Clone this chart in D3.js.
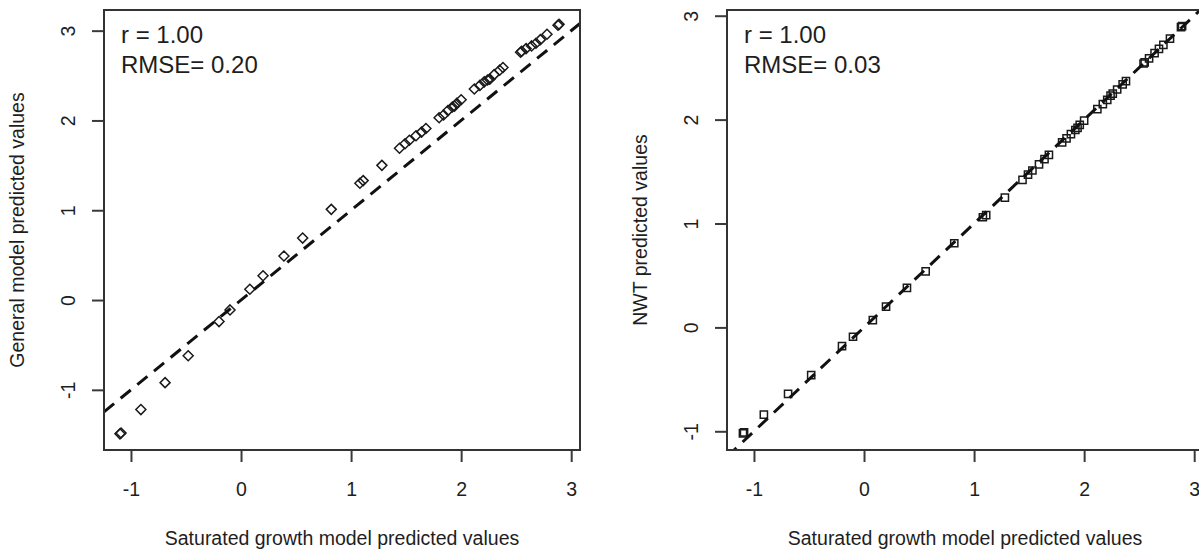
<!DOCTYPE html>
<html>
<head>
<meta charset="utf-8">
<script src="https://cdn.jsdelivr.net/npm/d3@7"></script>
<style>
  html, body { margin: 0; background: #fff; }
  svg { display: block; }
  text { font-family: "Liberation Sans", Arial, sans-serif; fill: #1e1e1e; }
</style>
</head>
<body>
<svg id="chart" width="1199" height="552"></svg>
<script>
// Tick values shared by both panels
const xTicks = [-1, 0, 1, 2, 3];
const yTicks = [-1, 0, 1, 2, 3];

// Saturated growth model predictions (x for both panels)
const saturatedPred = [
  -1.10, -1.09, -0.91, -0.69, -0.48, -0.20, -0.10, 0.08, 0.20, 0.39, 0.56, 0.82,
  1.08, 1.11, 1.28, 1.44, 1.49, 1.53, 1.59, 1.64, 1.68,
  1.80, 1.84, 1.88, 1.92, 1.94, 1.96, 2.00,
  2.12, 2.17, 2.21, 2.24, 2.26, 2.30, 2.35, 2.38,
  2.54, 2.55, 2.59, 2.64, 2.68, 2.72, 2.78, 2.88, 2.89
];

// General model predictions
const generalPred = [
  -1.49, -1.48, -1.22, -0.92, -0.62, -0.24, -0.11, 0.12, 0.27, 0.49, 0.69, 1.01,
  1.30, 1.33, 1.50, 1.69, 1.74, 1.78, 1.83, 1.87, 1.91,
  2.03, 2.06, 2.11, 2.15, 2.16, 2.19, 2.23,
  2.35, 2.39, 2.43, 2.45, 2.46, 2.51, 2.56, 2.59,
  2.76, 2.77, 2.80, 2.83, 2.86, 2.90, 2.96, 3.06, 3.07
];

// NWT model predictions
const nwtPred = [
  -1.02, -1.01, -0.84, -0.64, -0.46, -0.18, -0.09, 0.07, 0.20, 0.38, 0.54, 0.81,
  1.06, 1.08, 1.25, 1.42, 1.47, 1.51, 1.57, 1.62, 1.66,
  1.78, 1.82, 1.86, 1.90, 1.92, 1.95, 1.99,
  2.10, 2.15, 2.19, 2.23, 2.25, 2.29, 2.34, 2.37,
  2.54, 2.55, 2.59, 2.64, 2.68, 2.72, 2.78, 2.89, 2.90
];

const xTitle = "Saturated growth model predicted values";
const yTitles = ["General model predicted values", "NWT predicted values"];
const corrLabels = ["r = 1.00", "r = 1.00"];
const rmseLabels = ["RMSE= 0.20", "RMSE= 0.03"];

// Axis ranges (data range padded by 4%)
const xDomain = [-1.245, 3.08];
const yDomains = [[-1.67, 3.23], [-1.18, 3.055]];

const panels = [
  { left: 104, y: generalPred, yDomain: yDomains[0], yTitle: yTitles[0], r: corrLabels[0], rmse: rmseLabels[0], marker: "diamond" },
  { left: 727, y: nwtPred,     yDomain: yDomains[1], yTitle: yTitles[1], r: corrLabels[1], rmse: rmseLabels[1], marker: "square" }
];

const plotTop = 10, plotH = 440, plotW = 476;
const FS = 19.5;
const FONT = '"Liberation Sans", Arial, sans-serif';
const tickFmt = d => String(d);   // plain hyphen-minus for negatives
const svg = d3.select("#chart");

svg.append("rect").attr("width", 1199).attr("height", 552).attr("fill", "#fff");

const markerPath = {
  diamond: "M0,-5L5,0L0,5L-5,0Z",
  square: "M-3.6,-3.6H3.6V3.6H-3.6Z"
};

panels.forEach((p, i) => {
  const x = d3.scaleLinear().domain(xDomain).range([p.left, p.left + plotW]);
  const y = d3.scaleLinear().domain(p.yDomain).range([plotTop + plotH, plotTop]);

  const clipId = "clip" + i;
  svg.append("clipPath").attr("id", clipId)
    .append("rect").attr("x", p.left).attr("y", plotTop).attr("width", plotW).attr("height", plotH);

  // Points
  const pts = svg.append("g").attr("clip-path", `url(#${clipId})`);
  pts.selectAll("path.pt")
    .data(saturatedPred.map((v, k) => [v, p.y[k]]))
    .join("path")
    .attr("class", "pt")
    .attr("d", markerPath[p.marker])
    .attr("transform", d => `translate(${x(d[0])},${y(d[1])})`)
    .attr("fill", "none")
    .attr("stroke", "#1a1a1a")
    .attr("stroke-width", 1.5);

  // 1:1 reference line
  const line = d3.line().x(d => x(d)).y(d => y(d));
  pts.append("path")
    .attr("d", line(xDomain))
    .attr("fill", "none")
    .attr("stroke", "#111")
    .attr("stroke-width", 3)
    .attr("stroke-dasharray", "13,8.5");

  // Bottom axis
  const gx = svg.append("g")
    .attr("transform", `translate(0,${plotTop + plotH})`)
    .call(d3.axisBottom(x).tickValues(xTicks).tickFormat(tickFmt).tickSize(12).tickPadding(20));
  gx.select(".domain").remove();
  gx.selectAll("line").attr("stroke", "#3a3a3a").attr("stroke-width", 2);
  gx.selectAll("text").attr("font-size", FS).attr("fill", "#1e1e1e").attr("font-family", FONT);

  // Left axis with rotated labels
  const gy = svg.append("g")
    .attr("transform", `translate(${p.left},0)`)
    .call(d3.axisLeft(y).tickValues(yTicks).tickFormat(tickFmt).tickSize(12));
  gy.select(".domain").remove();
  gy.selectAll("line").attr("stroke", "#3a3a3a").attr("stroke-width", 2);
  gy.selectAll("text")
    .attr("font-size", FS).attr("fill", "#1e1e1e").attr("font-family", FONT)
    .attr("text-anchor", "middle")
    .attr("x", 0).attr("y", -29).attr("dy", 0)
    .attr("transform", "rotate(-90)");

  // Plot frame
  svg.append("rect")
    .attr("x", p.left).attr("y", plotTop).attr("width", plotW).attr("height", plotH)
    .attr("fill", "none").attr("stroke", "#333").attr("stroke-width", 2);

  // Axis titles
  svg.append("text")
    .attr("x", p.left + plotW / 2).attr("y", 545)
    .attr("text-anchor", "middle").attr("font-size", FS)
    .text(xTitle);
  svg.append("text")
    .attr("transform", `translate(${p.left - 80},${plotTop + plotH / 2}) rotate(-90)`)
    .attr("text-anchor", "middle").attr("font-size", FS)
    .text(p.yTitle);

  // Statistics annotation
  svg.append("text").attr("x", p.left + 17).attr("y", 43).attr("font-size", 24).text(p.r);
  svg.append("text").attr("x", p.left + 17).attr("y", 73).attr("font-size", 24).text(p.rmse);
});
</script>
</body>
</html>
